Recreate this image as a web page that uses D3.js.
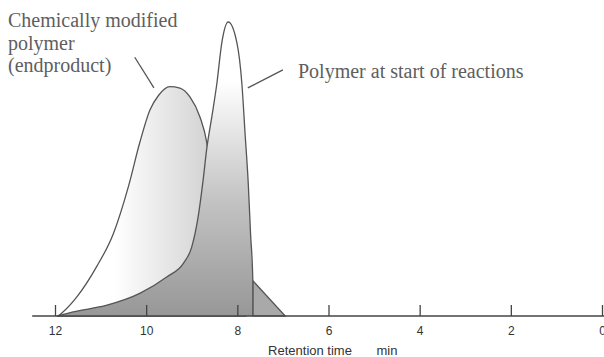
<!DOCTYPE html>
<meta charset="utf-8">
<script src="https://d3js.org/d3.v7.min.js"></script>
<style>
  body { margin: 0; background: #fff; }
</style>
<body>
<script>

// retention time (min) vs. detector signal (arbitrary, tall peak = 100)
var startTime   = [11.95, 11.6, 10.86, 10.13, 9.55, 9.18, 9.0, 8.86, 8.75, 8.67, 8.56, 8.45, 8.34, 8.2, 8.01, 7.9, 7.83, 7.76, 7.71, 7.66];
var startSignal = [0, 1.4, 3.7, 7.8, 13.3, 18, 23.5, 33.7, 46.3, 57, 67.7, 79, 93, 100, 93, 79, 62, 45, 28, 12];

var tailTime   = [7.66, 6.95];
var tailSignal = [12, 0];

var endTime   = [11.93, 11.85, 11.52, 11.09, 10.72, 10.39, 10.14, 9.92, 9.73, 9.48, 9.26, 9.04, 8.82, 8.67, 8.56, 8.43, 8.27, 8.05, 7.83];
var endSignal = [0, 1, 6.5, 16.7, 28, 44, 59, 70, 75, 78, 77.5, 74.5, 67.7, 59, 46, 29, 14, 4, 0];

var tickValues = [12, 10, 8, 6, 4, 2, 0];

var width = 604, height = 357;

var x = d3.scaleLinear().domain([12, 0]).range([55, 602]);
var y = d3.scaleLinear().domain([0, 100]).range([316, 22]);

var svg = d3.select("body").append("svg")
    .attr("width", width)
    .attr("height", height);

var defs = svg.append("defs");

var gEnd = defs.append("linearGradient")
    .attr("id", "gEnd")
    .attr("x1", "0%").attr("x2", "100%").attr("y1", "0%").attr("y2", "0%");
gEnd.append("stop").attr("offset", "0.3").attr("stop-color", "#ffffff");
gEnd.append("stop").attr("offset", "1").attr("stop-color", "#c2c2c2");

var gStart = defs.append("linearGradient")
    .attr("id", "gStart")
    .attr("x1", "0%").attr("x2", "0%").attr("y1", "0%").attr("y2", "100%");
gStart.append("stop").attr("offset", "0.2").attr("stop-color", "#ffffff");
gStart.append("stop").attr("offset", "0.6").attr("stop-color", "#c4c4c4");
gStart.append("stop").attr("offset", "1").attr("stop-color", "#979797");

var endData   = endTime.map(function(t, i) { return [t, endSignal[i]]; });
var startData = startTime.map(function(t, i) { return [t, startSignal[i]]; });
var tailData  = tailTime.map(function(t, i) { return [t, tailSignal[i]]; });

var area = d3.area()
    .x(function(d) { return x(d[0]); })
    .y0(y(0))
    .y1(function(d) { return y(d[1]); })
    .curve(d3.curveMonotoneX);

var stroke = "#555";

// chemically modified polymer (broad peak)
svg.append("path")
    .datum(endData)
    .attr("d", area)
    .attr("fill", "url(#gEnd)")
    .attr("stroke", stroke)
    .attr("stroke-width", 1.3);

// tail triangle
svg.append("path")
    .datum(tailData)
    .attr("d", d3.area().x(function(d) { return x(d[0]); }).y0(y(0)).y1(function(d) { return y(d[1]); }))
    .attr("fill", "#a9a9a9")
    .attr("stroke", stroke)
    .attr("stroke-width", 1.2);

// polymer at start (tall peak)
svg.append("path")
    .datum(startData)
    .attr("d", area)
    .attr("fill", "url(#gStart)");

svg.append("path")
    .datum(startData.concat([[startTime[startTime.length - 1], 0]]))
    .attr("d", d3.line().x(function(d) { return x(d[0]); }).y(function(d) { return y(d[1]); }).curve(d3.curveMonotoneX))
    .attr("fill", "none")
    .attr("stroke", stroke)
    .attr("stroke-width", 1.3);

// axis
svg.append("line")
    .attr("x1", x(12.5)).attr("x2", x(-0.05))
    .attr("y1", y(0)).attr("y2", y(0))
    .attr("stroke", "#444")
    .attr("stroke-width", 1.5);

var xAxis = d3.axisBottom(x)
    .tickValues(tickValues)
    .tickSizeInner(-11)
    .tickSizeOuter(0)
    .tickPadding(10)
    .tickFormat(d3.format("d"));

var ax = svg.append("g")
    .attr("transform", "translate(0," + y(0) + ")")
    .call(xAxis);
ax.select(".domain").remove();
ax.selectAll(".tick line").attr("stroke", "#444").attr("stroke-width", 1.3);
ax.selectAll(".tick text")
    .attr("fill", "#333")
    .style("font-family", "Liberation Sans, Arial, sans-serif")
    .style("font-size", "12px");

svg.append("text")
    .attr("x", 310).attr("y", 355)
    .attr("text-anchor", "middle")
    .attr("fill", "#333")
    .style("font-family", "Liberation Sans, Arial, sans-serif")
    .style("font-size", "13px")
    .text("Retention time");
svg.append("text")
    .attr("x", 387).attr("y", 355)
    .attr("text-anchor", "middle")
    .attr("fill", "#333")
    .style("font-family", "Liberation Sans, Arial, sans-serif")
    .style("font-size", "13px")
    .text("min");

// annotations
var serif = "Liberation Serif, Times New Roman, serif";
var labelColor = "#5e5e5e";

var lbl = svg.append("text")
    .attr("fill", labelColor)
    .style("font-family", serif)
    .style("font-size", "20px");
["Chemically modified", "polymer", "(endproduct)"].forEach(function(s, i) {
    lbl.append("tspan").attr("x", 8).attr("y", 27 + i * 22.5).text(s);
});

svg.append("text")
    .attr("x", 298).attr("y", 78)
    .attr("fill", labelColor)
    .style("font-family", serif)
    .style("font-size", "20px")
    .text("Polymer at start of reactions");

var leaders = [
    [[10.25, 88], [9.83, 77.6]],
    [[7.77, 77.6], [7.0, 83.7]]
];
leaders.forEach(function(l) {
    svg.append("line")
        .attr("x1", x(l[0][0])).attr("y1", y(l[0][1]))
        .attr("x2", x(l[1][0])).attr("y2", y(l[1][1]))
        .attr("stroke", "#555")
        .attr("stroke-width", 1.3);
});

</script>
</body>
